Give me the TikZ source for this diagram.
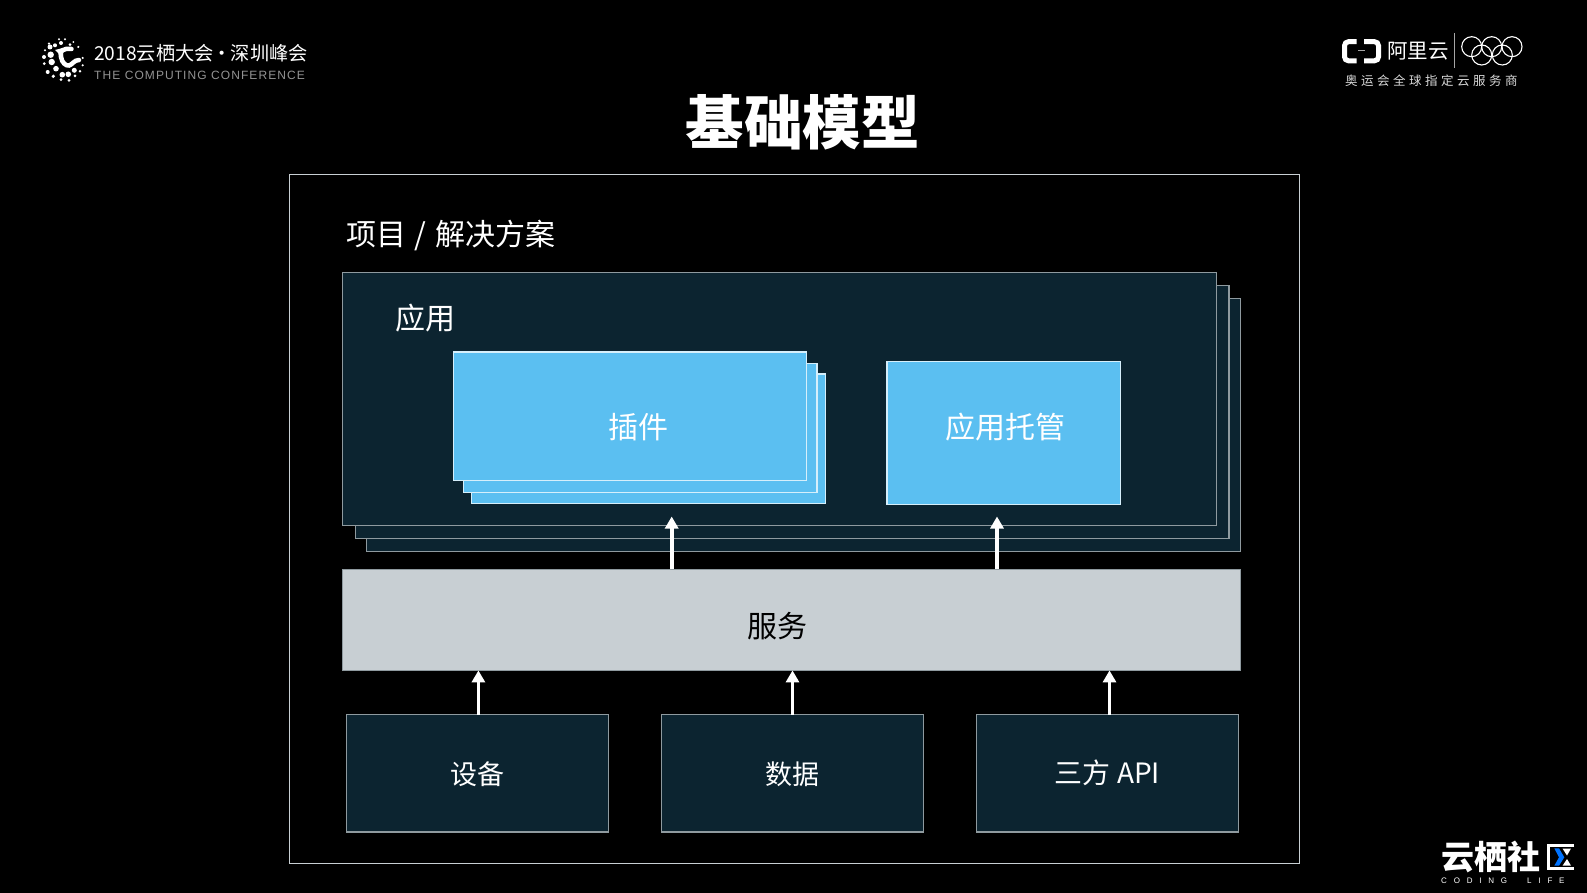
\documentclass[tikz,border=0pt]{standalone}
\usepackage{fontspec}
\setmainfont{Noto Sans CJK SC}
\newfontfamily\widefont[LetterSpace=28]{Noto Sans CJK SC}
\newfontfamily\conffont[LetterSpace=9]{Liberation Sans}
\newfontfamily\lifefont[LetterSpace=85]{Liberation Sans}
\usetikzlibrary{arrows.meta}
\definecolor{navy_d}{HTML}{0C2430}
\definecolor{sky_b}{HTML}{5BBFF1}
\definecolor{gray_s}{HTML}{C8CFD3}
\definecolor{gray_l}{HTML}{8F9A9F}
\tikzset{
	panel/.style = {rectangle, inner sep=0pt, outer sep=0pt},
	frame_k/.style = {panel, draw=gray_s, line width=1.2pt, fill=black},
	box_d/.style = {panel, draw=gray_l, line width=1.2pt, fill=navy_d},% dark box
	box_b/.style = {panel, draw=white!75!sky_b, line width=1.2pt, fill=sky_b},% blue box
	box_g/.style = {panel, draw=gray_l, line width=.6pt, fill=gray_s},
	lbl/.style = {white, inner sep=0pt, font=\fontsize{30}{30}\selectfont},
	lbl_s/.style = {lbl, font=\fontsize{27}{27}\selectfont},
	up/.style = {-{Triangle[width=13pt,length=12pt]}, white, line width=3.6pt},
	ring/.style = {white, line width=1.1pt}
}
\begin{document}
\begin{tikzpicture}[x=1pt,y=-1pt]
	\fill[black] (0,0) rectangle (1587,893);
	\useasboundingbox (0,0) rectangle (1587,893);
	% heading
	\node [white, inner sep=0pt, font=\fontsize{58.5}{58.5}\selectfont\bfseries] (title) at (802.5,122) {基础模型};
	% outer frame
	\node [frame_k, minimum width=1010pt, minimum height=689pt] (frame) at (794.5,519.25) {};
	\node [lbl, anchor=west] (proj) at (346,235.5) {项目\hspace{2pt} / \hspace{2pt}解决方案};
	% application stack
	\node [box_d, minimum width=874.2pt, minimum height=253pt] (app_c) at (803.6,425.3) {};
	\node [box_d, minimum width=873.6pt, minimum height=253pt] (app_b) at (792.2,412) {};
	\node [box_d, minimum width=874.2pt, minimum height=253pt] (app_a) at (779.6,398.9) {};
	\node [lbl, anchor=west] (app_t) at (395,318.5) {应用};
	% plugin stack
	\node [box_b, minimum width=354pt, minimum height=129.3pt] (plug_c) at (648.7,438.65) {};
	\node [box_b, minimum width=353.7pt, minimum height=129pt] (plug_b) at (640.15,427.8) {};
	\node [box_b, minimum width=353.5pt, minimum height=128.7pt] (plug_a) at (630,416.35) {};
	\node [lbl] (plug_t) at (638,427) {插件};
	\node [box_b, minimum width=233.6pt, minimum height=143pt] (host) at (1003.8,432.8) {};
	\node [lbl] (host_t) at (1005,427) {应用托管};
	% service
	\node [box_g, minimum width=898.7pt, minimum height=101pt] (srv) at (791.35,619.9) {};
	\node [lbl, black] (srv_t) at (777,626.5) {服务};
	% sources
	\node [box_d, minimum width=262pt, minimum height=117.5pt] (dev) at (477.4,773.25) {};
	\node [box_d, minimum width=262pt, minimum height=117.5pt] (data) at (792.5,773.25) {};
	\node [box_d, minimum width=262.6pt, minimum height=117.5pt] (api) at (1107.5,773.25) {};
	\node [lbl_s] (dev_t) at (477,774) {设备};
	\node [lbl_s] (data_t) at (792.5,774) {数据};
	\node [lbl_s, font=\fontsize{28}{28}\selectfont] (api_t) at (1107.5,773) {三方 API};
	% arrows
	\coordinate (tip_p) at (671.7,516.5);
	\coordinate (tip_h) at (997,516.5);
	\draw [up] (tip_p |- srv.north) -- (tip_p);
	\draw [up] (tip_h |- srv.north) -- (tip_h);
	\draw [up] ([xshift=1pt]dev.north) -- ([xshift=1pt]dev.north |- srv.south);
	\draw [up] (data.north) -- (data.north |- srv.south);
	\draw [up] ([xshift=2pt]api.north) -- ([xshift=2pt]api.north |- srv.south);
	% conference logo
	\foreach \x/\y/\r in {50.7/54.7/3.2,51.7/62/3.2,56/68.7/2.8,62.3/74.7/2.8,68.3/74.3/2.8,74.3/70.3/2.5,
		50/47/2.5,55/45.3/2,61/43/2,70/44.7/1.5,44/57/2,44.3/63.7/1.5,47.7/72/2,53.3/76.3/1.8,61/79.7/1.5,
		69/80.3/1.5,75/76/1.5,80/71.3/1.3,82.7/65.3/1.2,82.7/58/1.2,78.3/47/1.2,59/39.3/1.2,65/39.3/1.2,
		45/50.3/1.2,49/43.7/1.3,73.3/42/1}
		\fill[white] (\x,\y) circle (\r pt);
	\draw[white, line width=4.5pt, line cap=round] (71.5,49) .. controls (63,48) and (59,51) .. (61,57) .. controls (62,63) and (66,66) .. (69,65.5) .. controls (72,65) and (74,60) .. (79,60);
	\fill[white] (55,50) -- (63,48) -- (63,58) -- cycle;
	\node [white, anchor=west, inner sep=0pt, font=\fontsize{19.2}{19.2}\selectfont] (conf) at (94,53.5) {2018云栖大会\hspace{-1pt}·\hspace{-1pt}深圳峰会};
	\node [gray!85!white, anchor=west, inner sep=0pt, font=\conffont\fontsize{12}{12}\selectfont] (conf_e) at (94,75) {THE COMPUTING CONFERENCE};
	% sponsor logo
	\draw[white, line width=5pt, rounded corners=4pt] (1356.7,41.7) -- (1344.5,41.7) -- (1344.5,60.8) -- (1356.7,60.8);
	\draw[white, line width=5pt, rounded corners=4pt] (1364,41.7) -- (1378.5,41.7) -- (1378.5,60.8) -- (1364,60.8);
	\draw[gray!70!white, line width=1.2pt] (1358,50.3) -- (1365,50.3);
	\node [white, anchor=west, inner sep=0pt, font=\fontsize{20.5}{20.5}\selectfont] (ali) at (1387,50.7) {阿里云};
	\draw[gray!70!white, line width=1pt] (1454,33) -- (1454,68);
	\foreach \x/\y in {1471.7/46.7,1491.7/46.7,1512/46.7,1481.7/55,1502.3/55}
		\draw[ring] (\x,\y) circle (10pt);
	\node [white!85!black, anchor=west, inner sep=0pt, font=\widefont\fontsize{12.5}{12.5}\selectfont] (olym) at (1345,81) {奥运会全球指定云服务商};
	% community logo
	\node [white, anchor=west, inner sep=0pt, font=\fontsize{33}{33}\selectfont\bfseries] (comm) at (1441,857) {云栖社};
	\draw[white, line width=3pt] (1574,845) -- (1548.3,845) -- (1548.3,868) -- (1574,868);
	\fill[white] (1562.5,848.5) -- (1571,848.5) -- (1567,855.5) -- cycle;
	\fill[white] (1567,859) -- (1571,865.7) -- (1562.5,865.7) -- cycle;
	\fill[blue!55!cyan] (1554.3,848.3) -- (1559,848.3) -- (1564.3,857.3) -- (1559,865.7) -- (1554.3,865.7) -- (1559,857.3) -- cycle;
	\node [white, anchor=west, inner sep=0pt, font=\lifefont\fontsize{8}{8}\selectfont] (life) at (1441,881) {CODING\hspace{11pt} LIFE};
\end{tikzpicture}
\end{document}
